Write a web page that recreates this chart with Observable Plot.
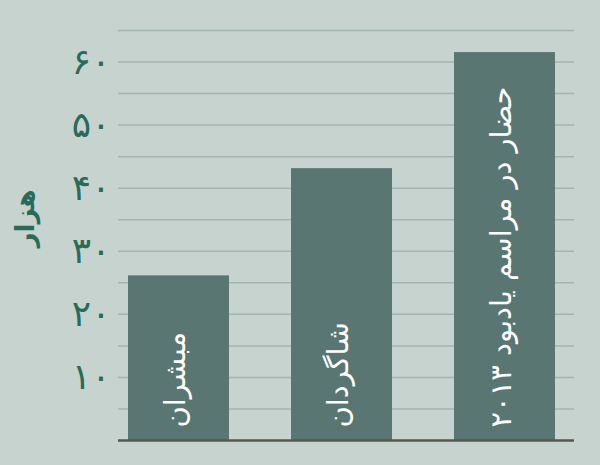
<!DOCTYPE html>
<html>
<head>
<meta charset="utf-8">
<script src="https://cdn.jsdelivr.net/npm/d3@7"></script>
<script src="https://cdn.jsdelivr.net/npm/@observablehq/plot@0.6"></script>
<style>
  html, body { margin: 0; padding: 0; background: #c6d3cf; }
  #chart svg { display: block; }
</style>
</head>
<body>
<div id="chart"></div>
<script>
const categories = ["مبشران", "شاگردان", "حضار در مراسم یادبود ۲۰۱۳"];
const values = [26.1, 43.1, 61.5];
const yTicks = [10, 20, 30, 40, 50, 60];
const gridValues = [5, 10, 15, 20, 25, 30, 35, 40, 45, 50, 55, 60, 65];
const yLabel = "هزار";

const faDigits = "۰۱۲۳۴۵۶۷۸۹";
const toFa = n => String(n).replace(/[0-9]/g, d => faDigits[+d]);

const data = categories.map((name, i) => ({name, value: values[i]}));

const chart = Plot.plot({
  width: 600,
  height: 465,
  marginLeft: 118,
  marginRight: 26,
  marginTop: 30,
  marginBottom: 25,
  style: {background: "#c6d3cf", fontFamily: "DejaVu Sans, sans-serif"},
  x: {domain: categories, range: [127, 557], paddingInner: 0.378, paddingOuter: 0, axis: null},
  y: {domain: [0, 65]},
  marks: [
    Plot.ruleY(gridValues, {stroke: "#a3b5b0", strokeWidth: 1.5}),
    Plot.barY(data, {x: "name", y: "value", fill: "#5a7673"}),
    Plot.ruleY([0], {stroke: "#55584f", strokeWidth: 2.5}),
    Plot.axisY({ticks: yTicks, tickFormat: toFa, tickSize: 0, tickPadding: 8, fontSize: 36, fill: "#2a6a58", label: null}),
    Plot.text([yLabel], {frameAnchor: "left", dx: -93, dy: 12, rotate: -90, fontSize: 26, fontWeight: "bold", fill: "#2a6a58"}),
    Plot.text(data, {x: "name", y: 0, text: "name", rotate: -90, textAnchor: "start", dy: -13, dx: -3, fontSize: 29, fill: "white"})
  ]
});
document.getElementById("chart").append(chart);
</script>
</body>
</html>
